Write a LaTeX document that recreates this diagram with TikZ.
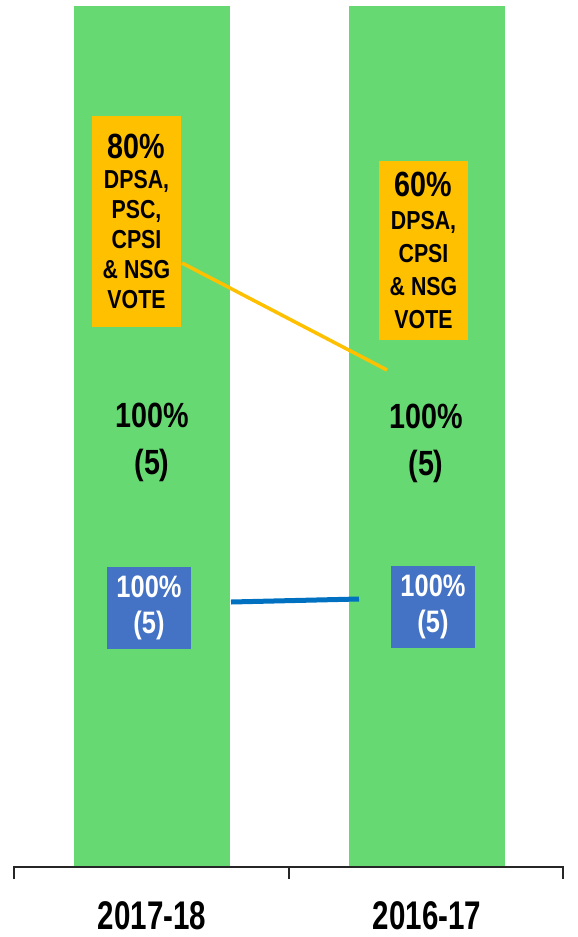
\documentclass[tikz,border=0pt]{standalone}
\usepackage{fontspec}
\setmainfont{Liberation Sans}[FakeStretch=0.82]
\definecolor{bargreen}{RGB}{103,217,115}
\definecolor{votegold}{RGB}{255,192,0}
\definecolor{boxblue}{RGB}{68,114,196}
\definecolor{lineblue}{RGB}{0,112,192}
\begin{document}
\begin{tikzpicture}[x=1pt,y=-1pt,
  bar/.style={fill=bargreen,inner sep=0pt,minimum width=156pt,minimum height=861pt},
  votebox/.style={fill=votegold,inner sep=0pt,minimum width=89pt,align=center,
    font=\bfseries\fontsize{26}{30}\selectfont},
  greenlabel/.style={inner sep=0pt,align=center,anchor=north,
    font=\bfseries\fontsize{35}{47}\selectfont},
  countbox/.style={fill=boxblue,text=white,inner sep=0pt,minimum width=84pt,
    minimum height=82pt,align=center,font=\bfseries\fontsize{31}{36}\selectfont},
  yearlabel/.style={inner sep=0pt,anchor=base,font=\bfseries\fontsize{40}{40}\selectfont},
  goldline/.style={draw=votegold,line width=3.5pt},
  blueline/.style={draw=lineblue,line width=5pt},
  axisline/.style={draw=black!85,line width=1.2pt}
]
\useasboundingbox (0,0) rectangle (578,937);

% bars
\node[bar] (bar1) at (152,436.5) {};
\node[bar] (bar2) at (426.5,436.5) {};

% category axis
\coordinate (axL) at (14,867);
\coordinate (axM) at (289,867);
\coordinate (axR) at (563,867);
\coordinate (tkL) at (14,879);
\coordinate (tkM) at (289,879);
\coordinate (tkR) at (563,879);
\draw[axisline] (tkL) -- (axL) -- (axR) -- (tkR);
\draw[axisline] (axM) -- (tkM);

% connectors between the two years
\coordinate (gA) at (182,263);
\coordinate (gB) at (387,370);
\draw[goldline] (gA) -- (gB);
\coordinate (bA) at (231,602);
\coordinate (bB) at (359,599);
\draw[blueline] (bA) -- (bB);

% vote boxes
\node[votebox,minimum height=211pt] (vote1) at (136.5,221.5)
  {{\fontsize{35}{30}\selectfont 80\%}\\DPSA,\\PSC,\\CPSI\\\& NSG\\VOTE};
\node[votebox,minimum height=179pt,font=\bfseries\fontsize{26}{33}\selectfont] (vote2) at (423.5,250)
  {{\fontsize{35}{33}\selectfont 60\%}\\DPSA,\\CPSI\\\& NSG\\VOTE};

% percentages on the bars
\node[greenlabel] (pct1) at (152,403) {100\%\\(5)};
\node[greenlabel] (pct2) at (426,404) {100\%\\(5)};

% count boxes
\node[countbox] (cnt1) at (149,608) {100\%\\(5)};
\node[countbox] (cnt2) at (433,607) {100\%\\(5)};

% year labels
\node[yearlabel] (yr1) at (152,929) {\scalebox{0.9}[1]{2017-18}};
\node[yearlabel] (yr2) at (427,929) {\scalebox{0.9}[1]{2016-17}};
\end{tikzpicture}
\end{document}
